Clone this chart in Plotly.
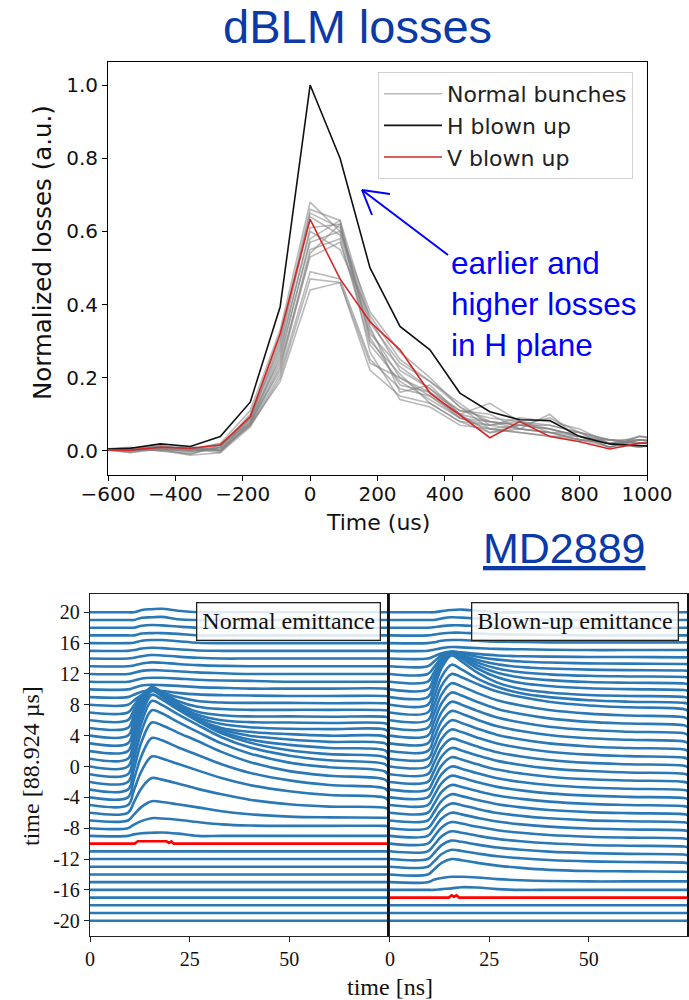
import plotly.graph_objects as go

W, H = 689, 1000


def px(x):
    return x / W


def py(y):
    return 1 - y / H


# ---------------- top chart: dBLM losses ----------------
turn_times = [-622.5, -533.5, -444.6, -355.7, -266.8, -177.8, -88.9, 0.0, 88.9, 177.8,
              266.8, 355.7, 444.6, 533.5, 622.5, 711.4, 800.3, 889.2, 978.2, 1067.1]
h_blown_up = [0.004, 0.007, 0.019, 0.012, 0.039, 0.133, 0.394, 1.0, 0.80, 0.50,
              0.34, 0.276, 0.158, 0.107, 0.085, 0.083, 0.039, 0.019, 0.014, 0.012]
v_blown_up = [0.003, 0.002, 0.010, 0.007, 0.016, 0.094, 0.32, 0.633, 0.47, 0.353,
              0.276, 0.158, 0.098, 0.036, 0.08, 0.039, 0.025, 0.005, 0.021, 0.02]
normal_bunches = [
    [0.005, 0.0, 0.01, 0.005, 0.02, 0.11, 0.33, 0.68, 0.60, 0.38, 0.27, 0.20, 0.12, 0.08, 0.07, 0.06, 0.04, 0.02, 0.03, 0.02],
    [0.003, 0.005, 0.015, 0.0, 0.01, 0.10, 0.31, 0.66, 0.63, 0.36, 0.22, 0.17, 0.10, 0.13, 0.08, 0.05, 0.05, 0.03, 0.02, 0.03],
    [0.006, -0.005, 0.005, -0.01, 0.015, 0.09, 0.30, 0.65, 0.61, 0.35, 0.24, 0.19, 0.13, 0.07, 0.06, 0.10, 0.03, 0.01, 0.04, 0.02],
    [0.004, 0.01, 0.0, 0.01, 0.0, 0.09, 0.29, 0.64, 0.59, 0.33, 0.20, 0.15, 0.09, 0.06, 0.05, 0.04, 0.04, 0.02, 0.01, 0.03],
    [0.002, 0.002, 0.012, 0.005, -0.005, 0.08, 0.27, 0.61, 0.62, 0.31, 0.18, 0.16, 0.11, 0.09, 0.08, 0.07, 0.05, 0.03, 0.03, 0.02],
    [0.005, 0.0, 0.008, -0.005, 0.01, 0.085, 0.25, 0.58, 0.63, 0.30, 0.21, 0.13, 0.08, 0.05, 0.06, 0.05, 0.03, 0.02, 0.02, 0.03],
    [0.003, 0.006, 0.004, 0.0, 0.005, 0.075, 0.26, 0.57, 0.60, 0.34, 0.16, 0.18, 0.10, 0.08, 0.07, 0.06, 0.04, 0.01, 0.03, 0.02],
    [0.004, -0.004, 0.01, 0.012, 0.0, 0.07, 0.23, 0.55, 0.58, 0.29, 0.19, 0.14, 0.09, 0.07, 0.09, 0.08, 0.06, 0.02, 0.04, 0.03],
    [0.002, 0.008, 0.0, -0.008, 0.01, 0.08, 0.22, 0.54, 0.62, 0.27, 0.14, 0.12, 0.07, 0.06, 0.05, 0.04, 0.03, 0.03, 0.02, 0.02],
    [0.005, 0.003, 0.014, 0.003, 0.02, 0.075, 0.24, 0.53, 0.57, 0.32, 0.23, 0.17, 0.11, 0.10, 0.06, 0.05, 0.04, 0.01, 0.03, 0.03],
    [0.003, 0.0, 0.006, 0.0, 0.005, 0.07, 0.21, 0.49, 0.47, 0.25, 0.17, 0.15, 0.10, 0.05, 0.07, 0.09, 0.05, 0.02, 0.01, 0.02],
    [0.004, 0.004, 0.002, -0.012, -0.005, 0.065, 0.20, 0.47, 0.46, 0.22, 0.15, 0.13, 0.08, 0.07, 0.08, 0.06, 0.04, 0.03, 0.02, 0.03],
    [0.002, 0.001, 0.009, 0.006, 0.0, 0.07, 0.19, 0.44, 0.46, 0.24, 0.20, 0.16, 0.09, 0.08, 0.06, 0.05, 0.03, 0.02, 0.03, 0.02],
    [0.005, 0.007, 0.011, 0.002, 0.015, 0.09, 0.28, 0.60, 0.55, 0.37, 0.25, 0.19, 0.12, 0.06, 0.07, 0.07, 0.05, 0.01, 0.04, 0.03],
]
top_xticks = [-600, -400, -200, 0, 200, 400, 600, 800, 1000]
top_yticks = [0.0, 0.2, 0.4, 0.6, 0.8, 1.0]

# ---------------- bottom chart: waterfall of BLM signals ----------------
trace_offsets = list(range(-20, 21))
sample_times = [0, 9.5, 11, 13, 15.5, 18, 22, 27, 33, 40, 50, 60, 74, 75]

normal_pulses = {
    -9: [0, 0, 0.2, 0.35, 0.4, 0.45, 0.3, 0, 0, 0, 0, 0, 0, 0],
    -8: [0, 0, 0.45, 0.95, 1.3, 1.25, 1.1, 0.8, 0.5, 0.35, 0.3, 0.3, 0.3, 0.25],
    -7: [0, 0, 0.75, 1.8, 2.5, 2.4, 2.1, 1.7, 1.2, 0.8, 0.5, 0.4, 0.35, 0.3],
    -6: [0, 0, 1.35, 3.25, 4.5, 4.3, 3.8, 3.1, 2.4, 1.7, 1.1, 0.8, 0.65, 0.4],
    -5: [0, 0, 1.9, 4.5, 6.3, 6.05, 5.35, 4.5, 3.5, 2.6, 1.8, 1.3, 0.95, 0.5],
    -4: [0, 0, 2.3, 5.5, 7.7, 7.4, 6.5, 5.5, 4.3, 3.2, 2.2, 1.6, 1.15, 0.6],
    -3: [0, 0, 2.6, 6.3, 8.7, 8.35, 7.4, 6.3, 4.9, 3.6, 2.4, 1.8, 1.3, 0.7],
    -2: [0, 0, 2.8, 6.7, 9.3, 8.9, 7.8, 6.5, 5.0, 3.7, 2.5, 1.9, 1.35, 0.7],
    -1: [0, 0, 2.85, 6.8, 9.5, 9.0, 7.8, 6.4, 4.8, 3.5, 2.4, 1.8, 1.3, 0.7],
    0: [0, 0, 2.8, 6.7, 9.3, 8.7, 7.4, 5.9, 4.3, 3.1, 2.1, 1.6, 1.2, 0.6],
    1: [0, 0, 2.6, 6.3, 8.8, 8.1, 6.6, 5.0, 3.5, 2.5, 1.8, 1.4, 1.1, 0.5],
    2: [0, 0, 2.4, 5.8, 8.1, 7.3, 5.7, 4.1, 2.8, 2.0, 1.5, 1.2, 1.0, 0.5],
    3: [0, 0, 2.2, 5.2, 7.2, 6.3, 4.6, 3.1, 2.0, 1.5, 1.2, 1.0, 0.9, 0.45],
    4: [0, 0, 1.9, 4.5, 6.3, 5.5, 3.8, 2.4, 1.5, 1.1, 0.9, 0.85, 0.8, 0.4],
    5: [0, 0, 1.6, 3.8, 5.3, 4.6, 3.0, 1.7, 1.0, 0.75, 0.7, 0.65, 0.6, 0.35],
    6: [0, 0, 1.3, 3.0, 4.2, 3.6, 2.2, 1.1, 0.65, 0.5, 0.5, 0.45, 0.45, 0.3],
    7: [0, 0, 0.9, 2.2, 3.0, 2.6, 1.5, 0.75, 0.45, 0.35, 0.35, 0.35, 0.3, 0.2],
    8: [0, 0, 0.55, 1.3, 1.8, 1.6, 1.0, 0.5, 0.3, 0.25, 0.25, 0.2, 0.2, 0.1],
    9: [0, 0, 0.3, 0.7, 0.9, 0.8, 0.55, 0.35, 0.25, 0.2, 0.15, 0.15, 0.15, 0.1],
    10: [0, 0, 0.2, 0.5, 0.6, 0.55, 0.45, 0.3, 0.2, 0.1, 0.1, 0.1, 0.1, 0],
    11: [0, 0, 0.15, 0.4, 0.5, 0.5, 0.4, 0.25, 0.15, 0.1, 0, 0, 0, 0],
    12: [0, 0, 0.15, 0.4, 0.5, 0.45, 0.35, 0.2, 0.1, 0, 0, 0, 0, 0],
    13: [0, 0, 0.1, 0.35, 0.5, 0.45, 0.3, 0.15, 0.05, 0, 0, 0, 0, 0],
    14: [0, 0, 0.1, 0.3, 0.45, 0.4, 0.25, 0.1, 0, 0, 0, 0, 0, 0],
    15: [0, 0, 0.1, 0.3, 0.4, 0.35, 0.2, 0.05, 0, 0, 0, 0, 0, 0],
    16: [0, 0, 0.05, 0.3, 0.4, 0.4, 0.25, 0.05, 0, 0, 0, 0, 0, 0],
    17: [0, 0, 0, 0.25, 0.3, 0.3, 0.2, 0, 0, 0, 0, 0, 0, 0],
    18: [0, 0, 0, 0.25, 0.35, 0.3, 0.15, 0, 0, 0, 0, 0, 0, 0],
    19: [0, 0, 0, 0.3, 0.35, 0.4, 0.1, 0, 0, 0, 0, 0, 0, 0],
    20: [0, 0, 0, 0.3, 0.4, 0.45, 0.2, 0, 0, 0, 0, 0, 0, 0],
}
blown_pulses = {
    -16: [0, 0, 0, 0.1, 0.2, 0.35, 0.3, 0.1, 0, 0, 0, 0, 0, 0],
    -15: [0, 0, 0.3, 0.55, 0.7, 0.7, 0.6, 0.4, 0.25, 0.15, 0.1, 0.1, 0.1, 0.1],
    -14: [0, 0, 0.6, 1.5, 2.0, 1.85, 1.5, 1.15, 0.85, 0.6, 0.45, 0.4, 0.35, 0.3],
    -13: [0, 0, 0.66, 1.65, 2.2, 2.05, 1.72, 1.36, 1.1, 0.88, 0.7, 0.62, 0.53, 0.44],
    -12: [0, 0, 0.72, 1.8, 2.4, 2.23, 1.87, 1.49, 1.2, 0.96, 0.77, 0.67, 0.58, 0.48],
    -11: [0, 0, 0.78, 1.95, 2.6, 2.42, 2.03, 1.61, 1.3, 1.04, 0.83, 0.73, 0.62, 0.52],
    -10: [0, 0, 0.84, 2.1, 2.8, 2.6, 2.18, 1.74, 1.4, 1.12, 0.9, 0.78, 0.67, 0.56],
    -9: [0, 0, 0.9, 2.25, 3.0, 2.79, 2.34, 1.86, 1.5, 1.2, 0.96, 0.84, 0.72, 0.6],
    -8: [0, 0, 0.96, 2.4, 3.2, 2.98, 2.5, 1.98, 1.6, 1.28, 1.02, 0.9, 0.77, 0.64],
    -7: [0, 0, 1.02, 2.55, 3.4, 3.16, 2.65, 2.11, 1.7, 1.36, 1.09, 0.95, 0.82, 0.68],
    -6: [0, 0, 1.08, 2.7, 3.6, 3.35, 2.81, 2.23, 1.8, 1.44, 1.15, 1.01, 0.86, 0.72],
    -5: [0, 0, 1.14, 2.85, 3.8, 3.53, 2.96, 2.36, 1.9, 1.52, 1.22, 1.06, 0.91, 0.76],
    -4: [0, 0, 1.2, 3.0, 4.0, 3.72, 3.12, 2.48, 2.0, 1.6, 1.28, 1.12, 0.96, 0.8],
    -3: [0, 0, 1.26, 3.15, 4.2, 3.91, 3.28, 2.6, 2.1, 1.68, 1.34, 1.18, 1.01, 0.84],
    -2: [0, 0, 1.32, 3.3, 4.4, 4.09, 3.43, 2.73, 2.2, 1.76, 1.41, 1.23, 1.06, 0.88],
    -1: [0, 0, 1.38, 3.45, 4.6, 4.28, 3.59, 2.85, 2.3, 1.84, 1.47, 1.29, 1.1, 0.92],
    0: [0, 0, 1.44, 3.6, 4.8, 4.46, 3.74, 2.98, 2.4, 1.92, 1.54, 1.34, 1.15, 0.96],
    1: [0, 0, 1.5, 3.75, 5.0, 4.65, 3.9, 3.1, 2.5, 2.0, 1.6, 1.4, 1.2, 1.0],
    2: [0, 0, 1.56, 3.9, 5.2, 4.84, 4.06, 3.22, 2.6, 2.08, 1.66, 1.46, 1.25, 1.04],
    3: [0, 0, 1.62, 4.05, 5.4, 5.02, 4.21, 3.35, 2.7, 2.16, 1.73, 1.51, 1.3, 1.08],
    4: [0, 0, 1.68, 4.2, 5.6, 5.21, 4.37, 3.47, 2.8, 2.24, 1.79, 1.57, 1.34, 1.12],
    5: [0, 0, 1.74, 4.35, 5.8, 5.39, 4.52, 3.6, 2.9, 2.32, 1.86, 1.62, 1.39, 1.16],
    6: [0, 0, 1.8, 4.5, 6.0, 5.58, 4.68, 3.72, 3.0, 2.4, 1.92, 1.68, 1.44, 1.2],
    7: [0, 0, 1.86, 4.65, 6.2, 5.6, 4.4, 3.3, 2.5, 2.0, 1.6, 1.4, 1.25, 1.1],
    8: [0, 0, 1.92, 4.8, 6.4, 5.63, 4.16, 2.88, 2.05, 1.6, 1.28, 1.15, 1.02, 0.9],
    9: [0, 0, 1.71, 4.28, 5.7, 5.02, 3.71, 2.57, 1.82, 1.43, 1.14, 1.03, 0.91, 0.8],
    10: [0, 0, 1.44, 3.6, 4.8, 4.22, 3.12, 2.16, 1.54, 1.2, 0.96, 0.86, 0.77, 0.67],
    11: [0, 0, 1.14, 2.85, 3.8, 3.34, 2.47, 1.71, 1.22, 0.95, 0.76, 0.68, 0.61, 0.53],
    12: [0, 0, 0.84, 2.1, 2.8, 2.46, 1.82, 1.26, 0.9, 0.7, 0.56, 0.5, 0.45, 0.39],
    13: [0, 0, 0.57, 1.43, 1.9, 1.67, 1.24, 0.86, 0.61, 0.48, 0.38, 0.34, 0.3, 0.27],
    14: [0, 0, 0.27, 0.68, 0.9, 0.8, 0.6, 0.4, 0.3, 0.25, 0.2, 0.2, 0.15, 0.15],
    15: [0, 0, 0.15, 0.35, 0.5, 0.45, 0.35, 0.25, 0.2, 0.15, 0.1, 0.1, 0.1, 0.1],
    16: [0, 0, 0.1, 0.3, 0.4, 0.4, 0.3, 0.2, 0.15, 0.1, 0.1, 0.1, 0.1, 0.1],
    17: [0, 0, 0.1, 0.25, 0.35, 0.35, 0.25, 0.15, 0.1, 0.05, 0, 0, 0, 0],
    18: [0, 0, 0.05, 0.2, 0.3, 0.3, 0.2, 0.1, 0, 0, 0, 0, 0, 0],
    19: [0, 0, 0, 0.2, 0.35, 0.3, 0.2, 0.1, 0, 0, 0, 0, 0, 0],
    20: [0, 0, 0, 0.15, 0.3, 0.35, 0.2, 0, 0, 0, 0, 0, 0, 0],
}
normal_red_offset = -10
normal_red_times = [0, 11.2, 12.0, 19.2, 19.8, 20.4, 21.0, 75]
normal_red_vals = [0, 0, 0.3, 0.3, 0.1, 0.3, 0, 0]
blown_red_offset = -17
blown_red_times = [0, 14.8, 15.5, 16.1, 16.7, 17.4, 75]
blown_red_vals = [0, 0, 0.3, 0.1, 0.3, 0, 0]

bottom_yticks = [-20, -16, -12, -8, -4, 0, 4, 8, 12, 16, 20]
bottom_yticktext = ["-20", "-16", "-12", "-8", "-4", "0", "4", "8", "12", "16", "20"]
bottom_xticks = [0, 25, 50]

# ---------------- figure ----------------
fig = go.Figure()

GRAY = "rgba(128,128,128,0.55)"
for i, series in enumerate(normal_bunches):
    fig.add_trace(go.Scatter(x=turn_times, y=series, mode="lines", line=dict(color=GRAY, width=1.6),
                             name="Normal bunches", showlegend=(i == 0), legendgroup="n",
                             xaxis="x", yaxis="y"))
fig.add_trace(go.Scatter(x=turn_times, y=h_blown_up, mode="lines", line=dict(color="#111111", width=1.6),
                         name="H blown up", xaxis="x", yaxis="y"))
fig.add_trace(go.Scatter(x=turn_times, y=v_blown_up, mode="lines", line=dict(color="#d62728", width=1.6),
                         name="V blown up", xaxis="x", yaxis="y"))

BLUE = "#2a78b5"


def add_panel(pulses, red_offset, red_times, red_vals, xa, ya):
    for o in trace_offsets:
        if o == red_offset:
            continue
        if o in pulses:
            ys = [o + v for v in pulses[o]]
            xs = sample_times
        else:
            xs = [sample_times[0], sample_times[-1]]
            ys = [o, o]
        fig.add_trace(go.Scatter(x=xs, y=ys, mode="lines",
                                 line=dict(color=BLUE, width=2.6, shape="spline", smoothing=1.0),
                                 showlegend=False, xaxis=xa, yaxis=ya, hoverinfo="skip"))
    fig.add_trace(go.Scatter(x=red_times, y=[red_offset + v for v in red_vals], mode="lines",
                             line=dict(color="#ff0000", width=2.6),
                             showlegend=False, xaxis=xa, yaxis=ya, hoverinfo="skip"))


add_panel(normal_pulses, normal_red_offset, normal_red_times, normal_red_vals, "x2", "y2")
add_panel(blown_pulses, blown_red_offset, blown_red_times, blown_red_vals, "x3", "y3")

SANS = "DejaVu Sans"
SERIF = "Liberation Serif"
ARIAL = "Liberation Sans"

common_top = dict(showgrid=False, zeroline=False, showline=True, mirror=True, linecolor="black",
                  linewidth=1, ticks="outside", ticklen=5, tickcolor="black", automargin=False,
                  tickfont=dict(family=SANS, size=20, color="#111"))
common_bot = dict(showgrid=False, zeroline=False, showline=True, mirror=True, linecolor="#222",
                  linewidth=1.4, ticks="outside", ticklen=5, tickcolor="#222", automargin=False,
                  tickfont=dict(family=SERIF, size=20, color="#111"))

fig.update_layout(
    width=W, height=H, autosize=False,
    margin=dict(l=0, r=0, t=0, b=0, pad=0),
    paper_bgcolor="white", plot_bgcolor="white",
    xaxis=dict(domain=[px(108), px(647)], anchor="y", range=[-600, 1000], tickvals=top_xticks,
               ticklabelstandoff=-4, **common_top),
    yaxis=dict(domain=[py(475), py(62)], anchor="x", range=[-0.066, 1.063], tickvals=top_yticks,
               tickformat=".1f", **common_top),
    xaxis2=dict(domain=[px(90), px(389)], anchor="y2", range=[0, 75], tickvals=bottom_xticks, **common_bot),
    yaxis2=dict(domain=[py(936), py(594)], anchor="x2", range=[-21.98, 22.37], tickvals=bottom_yticks,
                ticktext=bottom_yticktext, **common_bot),
    xaxis3=dict(domain=[px(389), px(687)], anchor="y3", range=[-0.25, 74.75], tickvals=bottom_xticks, **common_bot),
    yaxis3=dict(domain=[py(936), py(594)], anchor="x3", range=[-21.98, 22.37], showticklabels=False,
                showgrid=False, zeroline=False, showline=True, mirror=True, linecolor="#111", linewidth=1.6,
                ticks="", automargin=False),
    legend=dict(x=px(378), y=py(72), xanchor="left", yanchor="top", bgcolor="rgba(255,255,255,0.9)",
                bordercolor="#d0d0d0", borderwidth=1, font=dict(family=SANS, size=22, color="#222"),
                itemwidth=58, tracegroupgap=0),
    showlegend=True,
)

annotations = [
    dict(text="dBLM losses", x=px(357), y=py(26), font=dict(family=ARIAL, size=47, color="#0b3aa8")),
    dict(text="Normalized losses (a.u.)", x=px(42), y=py(253), textangle=-90,
         font=dict(family=SANS, size=24.5, color="#111")),
    dict(text="Time (us)", x=px(378), y=py(522), font=dict(family=SANS, size=22, color="#111")),
    dict(text="earlier and<br>higher losses<br>in H plane", x=px(449), y=py(243), xanchor="left",
         yanchor="top", align="left", font=dict(family=ARIAL, size=31.5, color="#0000ff")),
    dict(text="<u>MD2889</u>", x=px(564), y=py(548), font=dict(family=ARIAL, size=43, color="#0b3aa8")),
    dict(text="Normal emittance", x=px(288), y=py(621), bgcolor="rgba(255,255,255,0.85)",
         bordercolor="#222", borderwidth=1.3, borderpad=5, font=dict(family=SERIF, size=24, color="#111")),
    dict(text="Blown-up emittance", x=px(575), y=py(621), bgcolor="rgba(255,255,255,0.85)",
         bordercolor="#222", borderwidth=1.3, borderpad=5, font=dict(family=SERIF, size=24, color="#111")),
    dict(text="time [ns]", x=px(390), y=py(987), font=dict(family=SERIF, size=24, color="#111")),
    dict(text="time [88.924 µs]", x=px(31), y=py(766), textangle=-90,
         font=dict(family=SERIF, size=24, color="#111")),
]
for a in annotations:
    a.update(xref="paper", yref="paper", showarrow=False)
    a.setdefault("xanchor", "center")
    a.setdefault("yanchor", "middle")
fig.update_layout(annotations=annotations)

ARROW = dict(color="#0000ff", width=2)
fig.update_layout(shapes=[
    dict(type="line", xref="paper", yref="paper", x0=px(448), y0=py(255), x1=px(362), y1=py(190), line=ARROW),
    dict(type="line", xref="paper", yref="paper", x0=px(362), y0=py(190), x1=px(390), y1=py(194), line=ARROW),
    dict(type="line", xref="paper", yref="paper", x0=px(362), y0=py(190), x1=px(372), y1=py(215), line=ARROW),
])

fig.write_html("out.html", config={"displayModeBar": False},
               post_script="document.body.style.margin='0';document.body.style.padding='0';")
